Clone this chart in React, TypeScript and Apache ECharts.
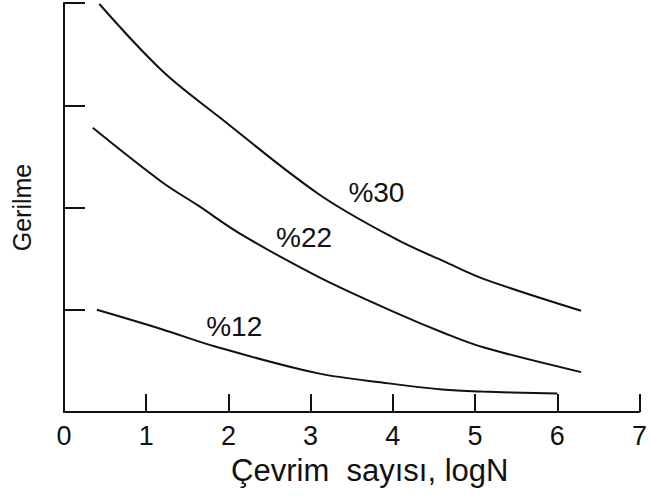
import React, { useEffect, useRef } from "react";
import * as echarts from "echarts";

const xTicks = [0, 1, 2, 3, 4, 5, 6, 7];
const seriesNames = ["%30", "%22", "%12"];
const curve30: [number, number][] = [
  [0.43, 3.99], [1.19, 3.34], [1.88, 2.89], [3.1, 2.13], [4.04, 1.69], [4.63, 1.47], [5.11, 1.3], [6.29, 0.99],
];
const curve22: [number, number][] = [
  [0.35, 2.78], [1.19, 2.25], [1.63, 2.02], [2.15, 1.74], [3.1, 1.32], [4.04, 0.97], [4.63, 0.77], [5.11, 0.63], [6.29, 0.39],
];
const curve12: [number, number][] = [
  [0.4, 1.0], [1.19, 0.81], [1.84, 0.64], [3.08, 0.38], [3.95, 0.28], [4.6, 0.22], [5.08, 0.2], [6.0, 0.18],
];
const labelCoords: [number, number][] = [
  [3.8, 2.15], [2.92, 1.71], [2.07, 0.84],
];

const FONT = "'Liberation Sans', Arial, sans-serif";
const INK = "#111";

export default function App() {
  const ref = useRef<HTMLDivElement>(null);
  useEffect(() => {
    if (!ref.current) return;
    const chart = echarts.init(ref.current, undefined, { renderer: "svg" });
    const curves = [curve30, curve22, curve12];
    chart.setOption({
      animation: false,
      backgroundColor: "#fff",
      grid: { left: 64, right: 3, top: 3, bottom: 87 },
      xAxis: {
        type: "value",
        min: 0,
        max: 7,
        interval: 1,
        name: "Çevrim  sayısı, logN",
        nameLocation: "middle",
        nameGap: 43,
        nameTextStyle: { fontFamily: FONT, fontSize: 31, color: INK, padding: [0, 0, 0, 36] },
        axisLine: { lineStyle: { color: INK, width: 2 } },
        axisTick: { inside: true, length: 18, lineStyle: { color: INK, width: 2 } },
        axisLabel: {
          margin: 10,
          fontFamily: FONT,
          fontSize: 27,
          color: INK,
          formatter: (v: number) => (xTicks.includes(v) ? String(v) : ""),
        },
        splitLine: { show: false },
      },
      yAxis: {
        type: "value",
        min: 0,
        max: 4,
        interval: 1,
        name: "Gerilme",
        nameLocation: "middle",
        nameGap: 30,
        nameRotate: 90,
        nameTextStyle: { fontFamily: FONT, fontSize: 25, color: INK },
        axisLine: { lineStyle: { color: INK, width: 2 } },
        axisTick: { inside: true, length: 21, lineStyle: { color: INK, width: 2 } },
        axisLabel: { show: false },
        splitLine: { show: false },
      },
      series: curves.map((c, i) => ({
        name: seriesNames[i],
        type: "line",
        data: c,
        smooth: 0.35,
        showSymbol: false,
        lineStyle: { color: INK, width: 2 },
        markPoint: {
          symbol: "rect",
          symbolSize: [2, 2],
          itemStyle: { color: "rgba(0,0,0,0)" },
          data: [
            {
              coord: labelCoords[i],
              label: {
                show: true,
                position: "inside",
                formatter: seriesNames[i],
                fontFamily: FONT,
                fontSize: 28,
                color: INK,
              },
            },
          ],
        },
      })),
    });
    return () => chart.dispose();
  }, []);
  return (
    <div
      ref={ref}
      style={{ position: "fixed", left: 0, top: 0, width: 650, height: 499 }}
    />
  );
}
